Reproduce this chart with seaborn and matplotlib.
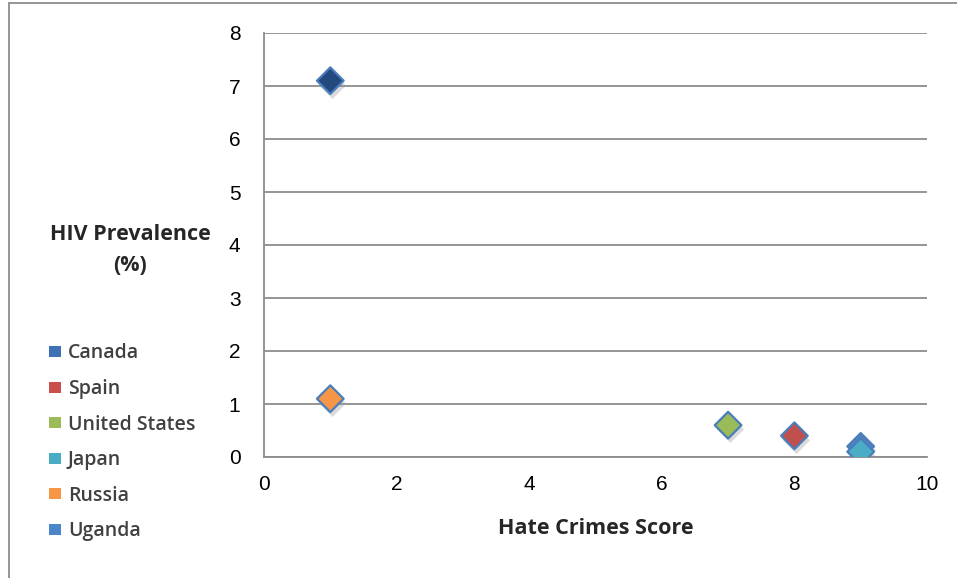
import matplotlib
matplotlib.use("Agg")
import matplotlib.pyplot as plt
import matplotlib.transforms as mtransforms
from matplotlib.patches import Rectangle, Patch
import seaborn as sns
import pandas as pd

countries = ["Canada", "Spain", "United States", "Japan", "Russia", "Uganda"]
hate_crimes = [9, 8, 7, 9, 1, 1]
hiv_prev = [0.2, 0.4, 0.6, 0.1, 1.1, 7.1]
marker_colors = ["#4F81BD", "#C0504D", "#9BBB59", "#4BACC6", "#F79646", "#24497F"]
legend_colors = ["#3F72B5", "#C9504D", "#9BBB59", "#4BACC6", "#F79646", "#4A86C8"]
x_ticks = [0, 2, 4, 6, 8, 10]
y_ticks = [0, 1, 2, 3, 4, 5, 6, 7, 8]

df = pd.DataFrame({"country": countries, "x": hate_crimes, "y": hiv_prev})

sns.set_style("white")
plt.rcParams["font.family"] = ["Liberation Sans", "DejaVu Sans"]

fig = plt.figure(figsize=(9.57, 5.78), dpi=100)
ax = fig.add_axes([264 / 957, 1 - 457 / 578, (927 - 264) / 957, (457 - 33) / 578])

# outer chart border
fig.patches.append(Rectangle((9 / 957, -0.01), 1.0, 1 - 3 / 578 + 0.01,
                             transform=fig.transFigure, fill=False,
                             edgecolor="#8C8C8C", linewidth=1.3, zorder=0))

# shadows
shadow_tr = mtransforms.offset_copy(ax.transData, fig=fig, x=1.5, y=-4, units="dots")
ax.scatter(df["x"], df["y"], marker="D", s=190, color="#9A9A9A", alpha=0.35,
           linewidths=0, transform=shadow_tr, zorder=2)

sns.scatterplot(data=df, x="x", y="y", hue="country", hue_order=countries,
                palette=marker_colors, marker="D", s=185, edgecolor="#4A7EBB",
                linewidth=1.6, ax=ax, legend=False, zorder=3)

ax.set_xlim(0, 10)
ax.set_ylim(0, 8)
ax.set_xticks(x_ticks)
ax.set_yticks(y_ticks)
ax.set_xticklabels([str(t) for t in x_ticks])
ax.set_yticklabels([str(t) for t in y_ticks])
ax.grid(axis="y", color="#8C8C8C", linewidth=1.3)
ax.grid(axis="x", visible=False)
ax.set_axisbelow(True)
for side in ["top", "right"]:
    ax.spines[side].set_visible(False)
for side in ["left", "bottom"]:
    ax.spines[side].set_color("#8C8C8C")
    ax.spines[side].set_linewidth(1.3)
ax.tick_params(axis="both", which="both", direction="out", length=7, width=1.3,
               color="#8C8C8C", labelsize=15, labelcolor="black", pad=6)
ax.tick_params(axis="y", pad=10)

ax.set_ylabel("")
ax.set_xlabel("Hate Crimes Score", fontsize=15.5, fontweight="bold",
              family=["Open Sans", "DejaVu Sans"])
ax.xaxis.set_label_coords((596 - 264) / (927 - 264), -(529 - 457) / (457 - 33))
ax.xaxis.label.set_va("center")
fig.text(130 / 957, 1 - 250 / 578, "HIV Prevalence\n(%)", ha="center", va="center",
         fontsize=15.5, fontweight="bold", family=["Open Sans", "DejaVu Sans"],
         linespacing=1.65)

handles = [Patch(facecolor=c, edgecolor="none") for c in legend_colors]
fig.legend(handles, countries, loc="upper left",
           bbox_to_anchor=(31 / 957, 1 - 326 / 578), frameon=False,
           handlelength=0.65, handleheight=0.5, handletextpad=0.35,
           labelspacing=0.8, prop={"family": ["Open Sans", "DejaVu Sans"],
                                  "size": 14, "weight": "semibold"},
           labelcolor="#404040")

fig.savefig("out.png", dpi=100)
